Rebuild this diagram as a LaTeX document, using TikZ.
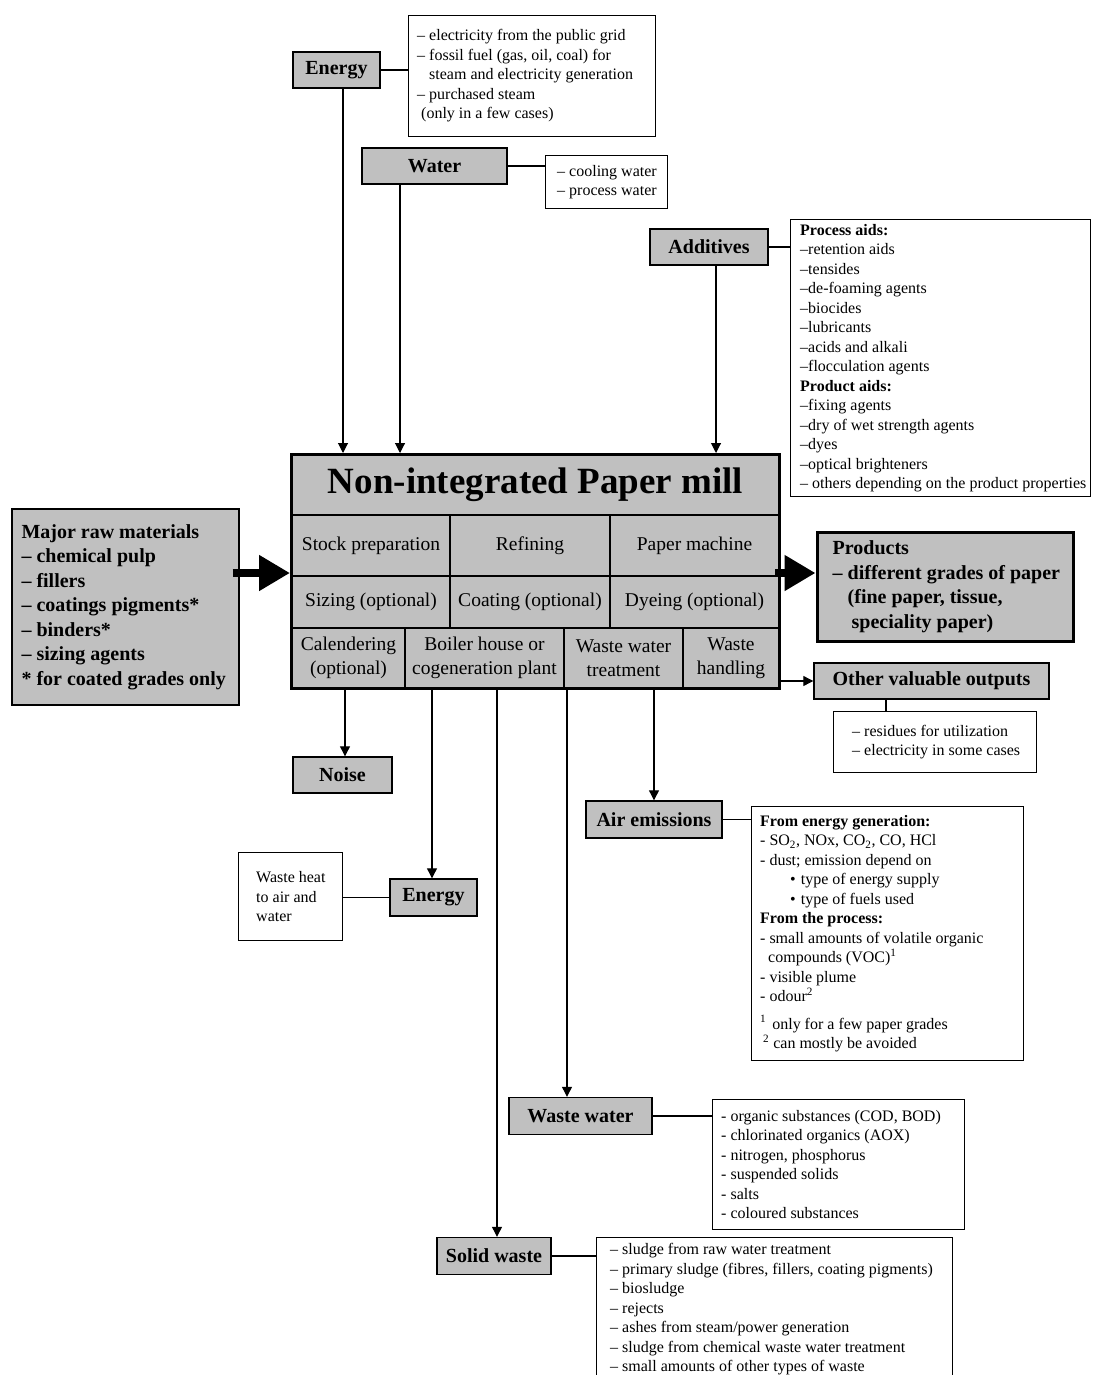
\documentclass[tikz,border=0pt]{standalone}
\usepackage{fontspec}
\setmainfont{Liberation Serif}
\usepackage{xcolor}
\usepackage{tikz}
\usetikzlibrary{arrows.meta,positioning,calc}
\definecolor{millgray}{HTML}{C0C0C0}
\newcommand{\infofont}{\fontsize{16}{19.5}\selectfont}
\newcommand{\lblfont}{\fontsize{20}{24}\selectfont\bfseries}
\newcommand{\bigfont}{\fontsize{20}{24.5}\selectfont\bfseries}
\newcommand{\cellfont}{\fontsize{19.5}{23.5}\selectfont}
\newcommand{\ttlfont}{\fontsize{37}{44}\selectfont\bfseries}
\tikzset{
  lbl/.style={draw=black, fill=millgray, line width=1.4pt, font=\lblfont,
              minimum height=#1, inner sep=0pt},
  lbl/.default=36,
  cell/.style={draw=black, fill=millgray, line width=1.2pt, font=\cellfont,
               align=center, inner sep=0pt},
  info/.style={draw=black, line width=1.1pt, inner sep=0pt},
  infotxt/.style={font=\infofont, align=left, inner sep=0pt},
  lnk/.style={line width=1.1pt},
  arr/.style={line width=1.1pt, -{Triangle[length=10pt,width=10pt]}},
  blk/.style={line width=8pt, -{Triangle[length=31pt,width=34pt]}},
}
\newcommand{\infobox}[6][10]{%
  \node[info, minimum width=#4, minimum height=#5, anchor=north west] (#2) at (#3) {};
  \node[infotxt, anchor=west] (#2-t) at ([xshift=#1]#2.west) {#6};}

\begin{document}
\begin{tikzpicture}[x=1pt, y=-1pt]
  \useasboundingbox (0,0) rectangle (1093,1375);

  \node[cell, minimum width=487, minimum height=60, font=\ttlfont] (ttl) at (535.5,485)
    {Non-integrated Paper mill};
  \foreach \nm/\cx/\cy/\w/\h/\txt in
      {stock/371/545.5/158/61/Stock preparation, refi/530/545.5/160/61/Refining,
       pmach/694.5/545.5/169/61/Paper machine,
       size/371/602/158/52/Sizing (optional), coat/530/602/160/52/Coating (optional),
       dye/694.5/602/169/52/Dyeing (optional),
       cal/348.5/658/113/60/Calendering\\(optional),
       boil/484.5/658/159/60/Boiler house or\\cogeneration plant,
       wwt/623.5/658/119/60/Waste water\\treatment,
       hand/731/658/96/60/Waste\\handling}
    \node[cell, minimum width=\w, minimum height=\h] (\nm) at (\cx,\cy) {\txt};
  \draw[line width=3.5pt] (ttl.north west) rectangle (hand.south east);

  \node[lbl, minimum width=87] (en) at (336.5,70) {Energy};
  \node[lbl, minimum width=145] (wa) at (434.5,166) {Water};
  \node[lbl, minimum width=118] (add) at (709,247) {Additives};
  \node[lbl, minimum width=99] (noise) at (342.5,775) {Noise};
  \node[lbl=37, minimum width=87] (en2) at (433.5,897.5) {Energy};
  \node[lbl=37, minimum width=136] (air) at (654,819.5) {Air emissions};
  \node[lbl=37, minimum width=143] (ww) at (580.5,1116) {Waste water};
  \node[lbl=37, minimum width=114] (sw) at (494,1256) {Solid waste};
  \node[lbl, minimum width=235] (oth) at (931.5,681) {Other valuable outputs};

  \node[lbl=196, minimum width=227] (raw) at (125.5,607) {};
  \node[infotxt, font=\bigfont, anchor=west] (raw-t) at ([xshift=10]raw.west)
    {Major raw materials\\– chemical pulp\\– fillers\\– coatings pigments*\\
     – binders*\\– sizing agents\\* for coated grades only};
  \node[lbl=109, minimum width=256, line width=3pt] (prod) at (945,586.5) {};
  \node[infotxt, font=\bigfont, anchor=west] (prod-t) at ([xshift=17]prod.west)
    {Products\\– different grades of paper\\\hspace*{15pt}(fine paper, tissue,\\
     \hspace*{19pt}speciality paper)};

  \infobox[9]{eninfo}{408,15}{247}{121}{– electricity from the public grid\\
    – fossil fuel (gas, oil, coal) for\\\hphantom{– }steam and electricity generation\\
    – purchased steam\\\hspace*{4pt}(only in a few cases)}
  \infobox[12]{wainfo}{545,155}{122}{53}{– cooling water\\– process water}
  \infobox[10]{addinfo}{790,219}{300}{277}{\textbf{Process aids:}\\–retention aids\\
    –tensides\\–de-foaming agents\\–biocides\\–lubricants\\–acids and alkali\\
    –flocculation agents\\\textbf{Product aids:}\\–fixing agents\\
    –dry of wet strength agents\\–dyes\\–optical brighteners\\
    – others depending on the product properties}
  \infobox[19]{othinfo}{833,711}{203}{61}{– residues for utilization\\
    – electricity in some cases}
  \infobox[18]{heat}{238,852}{104}{88}{Waste heat\\to air and\\water}
  \infobox[9]{airinfo}{751,806}{272}{254}{\textbf{From energy generation:}\\
    - SO\textsubscript{2}, NOx, CO\textsubscript{2}, CO, HCl\\
    - dust; emission depend on\\
    \hspace*{30pt}\textbullet\hspace{5pt}type of energy supply\\
    \hspace*{30pt}\textbullet\hspace{5pt}type of fuels used\\
    \textbf{From the process:}\\
    - small amounts of volatile organic\\
    \hspace*{8pt}compounds (VOC)\textsuperscript{1}\\
    - visible plume\\- odour\textsuperscript{2}\\[8pt]
    \textsuperscript{1}\hspace{6pt}only for a few paper grades\\
    \hspace*{3pt}\textsuperscript{2} can mostly be avoided}
  \infobox[9]{wwinfo}{712,1099}{252}{130}{- organic substances (COD, BOD)\\
    - chlorinated organics (AOX)\\- nitrogen, phosphorus\\- suspended solids\\
    - salts\\- coloured substances}
  \infobox[14]{swinfo}{596,1237}{356}{144}{– sludge from raw water treatment\\
    – primary sludge (fibres, fillers, coating pigments)\\– biosludge\\– rejects\\
    – ashes from steam/power generation\\
    – sludge from chemical waste water treatment\\
    – small amounts of other types of waste}

  \foreach \x/\from in {343/en, 400/wa, 716/add} {
    \coordinate (i\from) at (\x,453);
    \draw[arr] (i\from |- \from.south) -- (i\from);
  }
  \foreach \x/\to in {345/noise, 432/en2, 497/sw, 567/ww, 654/air} {
    \coordinate (o\to) at (\x,688);
    \draw[arr] (o\to) -- (o\to |- \to.north);
  }
  \foreach \from/\to in {en/eninfo, wa/wainfo, add/addinfo, air/airinfo,
                         ww/wwinfo, sw/swinfo}
    \draw[lnk] (\from.east) -- (\from.east -| \to.west);
  \draw[lnk] (en2.west) -- (en2.west -| heat.east);
  \draw[lnk] ([xshift=-45.5]oth.south) -- ([xshift=-45.5]oth.south |- othinfo.north);
  \draw[arr] (hand.east |- oth.west) -- (oth.west);

  \coordinate (inR) at (290,573);
  \draw[blk] ([xshift=-7]raw.east |- inR) -- (inR);
  \coordinate (outP) at (775,573);
  \draw[blk] (outP) -- (outP -| prod.west);
\end{tikzpicture}
\end{document}
